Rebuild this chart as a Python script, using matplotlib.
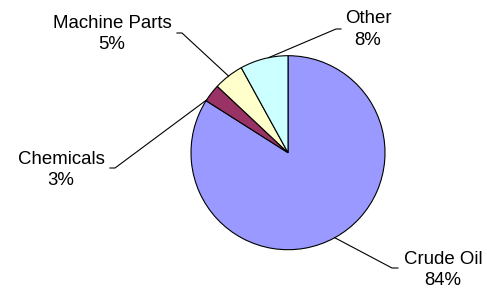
import numpy as np
import matplotlib
matplotlib.use('Agg')
import matplotlib.pyplot as plt

plt.rcParams['font.family'] = ['Liberation Sans', 'DejaVu Sans']

# data
categories = ['Crude Oil', 'Chemicals', 'Machine Parts', 'Other']
shares = [84, 3, 5, 8]
colors = ['#9999FF', '#993366', '#FFFFCC', '#CCFFFF']

# layout (pixel units, figure is 487x292)
W, H = 487, 292
center = (288, 139.3)
radius = 97
label_pos = [(443, 22), (61, 122), (112, 258), (368, 262.5)]
# where the leader line leaves the label, and the short horizontal stub
leader_start = [(398, 24), (110, 124), (177, 259), (341, 263)]
leader_stub = [(392, 24), (115, 124), (182, 259), (336, 263)]
# where along each wedge the leader touches (0=start, 1=end)
anchor_frac = [0.5, 0.05, 0.5, 0.6]

fig = plt.figure(figsize=(W / 100, H / 100), dpi=100)
ax = fig.add_axes([0, 0, 1, 1])

wedges, _ = ax.pie(shares, colors=colors, startangle=90, counterclock=False,
                   center=center, radius=radius,
                   wedgeprops=dict(edgecolor='black', linewidth=0.8))
ax.set_xlim(0, W)
ax.set_ylim(0, H)
ax.set_aspect('auto')
ax.set_axis_off()

for i, w in enumerate(wedges):
    t1, t2 = w.theta1, w.theta2
    # counterclock=False -> theta goes from theta2 down to theta1
    ang = np.deg2rad(t2 - anchor_frac[i] * (t2 - t1))
    ex = center[0] + radius * np.cos(ang)
    ey = center[1] + radius * np.sin(ang)
    xs = [leader_start[i][0], leader_stub[i][0], ex]
    ys = [leader_start[i][1], leader_stub[i][1], ey]
    ax.plot(xs, ys, color='black', linewidth=0.8)
    ax.text(label_pos[i][0], label_pos[i][1],
            '%s\n%d%%' % (categories[i], shares[i]),
            ha='center', va='center', fontsize=13.4, linespacing=1.36)

fig.savefig('out.png', dpi=100)
